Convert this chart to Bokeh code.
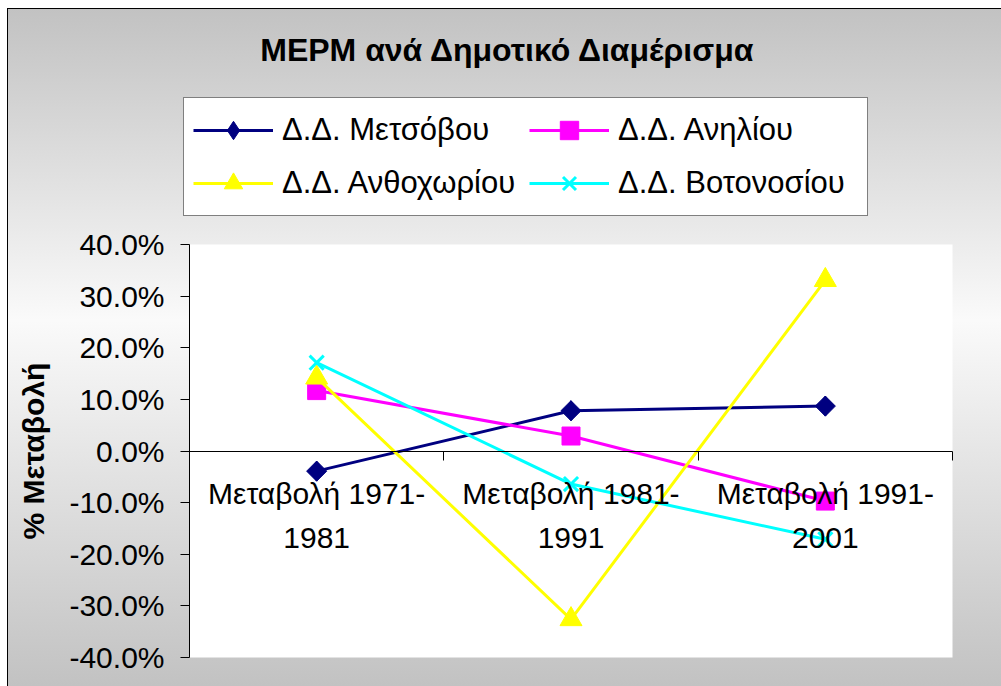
import math
from bokeh.plotting import figure
from bokeh.models import (Range1d, FixedTicker, NumeralTickFormatter, LinearAxis,
                          Legend, LegendItem, Label)
from bokeh.embed import file_html
from bokeh.resources import INLINE

# ---------------- data ----------------
chart_title = "ΜΕΡΜ ανά Δημοτικό Διαμέρισμα"
y_title = "% Μεταβολή"
categories = ["Μεταβολή 1971-\n1981", "Μεταβολή 1981-\n1991", "Μεταβολή 1991-\n2001"]
series_names = ["Δ.Δ. Μετσόβου", "Δ.Δ. Ανηλίου", "Δ.Δ. Ανθοχωρίου", "Δ.Δ. Βοτονοσίου"]
metsovou = [-0.039, 0.078, 0.087]
aniliou = [0.117, 0.029, -0.097]
anthochoriou = [0.142, -0.326, 0.331]
votonosiou = [0.171, -0.064, -0.171]
y_ticks = [-0.4, -0.3, -0.2, -0.1, 0.0, 0.1, 0.2, 0.3, 0.4]

values = [metsovou, aniliou, anthochoriou, votonosiou]
colors = ["#000080", "#ff00ff", "#ffff00", "#00ffff"]
markers = ["diamond", "square", "triangle", "x"]
msizes = [20, 18, 22, 20]
mlw = [1, 1, 1, 3]

FONT = "Liberation Sans"

# ---------------- layout (pixels inside the figure) ----------------
W, H = 993, 677
PL, PR, PT, PB = 181, 944, 235, 648   # white plot area edges

n = len(categories)
xs = [i + 0.5 for i in range(n)]
ymin, ymax = y_ticks[0], y_ticks[-1]
kx = n / (PR - PL)
ky = (ymax - ymin) / (PB - PT)
x_range = Range1d(-PL * kx, n + (W - PR) * kx)
y_range = Range1d(ymin - (H - PB) * ky, ymax + PT * ky)

p = figure(width=W, height=H, output_backend="svg", toolbar_location=None,
           x_range=x_range, y_range=y_range, x_axis_location=None,
           y_axis_location=None, min_border=0, title="")
p.title.visible = False
p.border_fill_color = None
p.background_fill_color = None
p.outline_line_color = None
p.xgrid.visible = False
p.ygrid.visible = False
p.styles = {
    "background": "linear-gradient(to bottom, #c2c2c2 0%, #fafafa 46%, #c2c2c2 100%)",
    "outline": "1px solid #000",
    "margin-left": "8px",
    "margin-top": "9px",
}

# white plot area
p.quad(left=[0], right=[n], bottom=[ymin], top=[ymax], fill_color="white",
       line_color=None)

# y axis
ya = LinearAxis(fixed_location=0, bounds=(ymin, ymax))
ya.ticker = FixedTicker(ticks=y_ticks)
ya.formatter = NumeralTickFormatter(format="0.0%")
ya.major_tick_in = 0
ya.major_tick_out = 9
ya.minor_tick_line_color = None
ya.axis_line_color = "black"
ya.major_tick_line_color = "black"
ya.major_label_text_font = FONT
ya.major_label_text_font_size = "30px"
ya.major_label_text_color = "black"
ya.major_label_standoff = 16
ya.axis_label = y_title
ya.axis_label_text_font = FONT
ya.axis_label_text_font_size = "30px"
ya.axis_label_text_font_style = "bold"
ya.axis_label_text_color = "black"
ya.axis_label_standoff = 16
p.add_layout(ya, "left")

# x axis: line at zero, ticks between categories
xa = LinearAxis(fixed_location=0, bounds=(0, n))
xa.ticker = FixedTicker(ticks=list(range(n + 1)))
xa.major_label_text_font_size = "0px"
xa.major_label_text_color = None
xa.major_tick_in = 0
xa.major_tick_out = 9
xa.minor_tick_line_color = None
xa.axis_line_color = "black"
xa.major_tick_line_color = "black"
p.add_layout(xa, "below")

# category labels
xl = LinearAxis(fixed_location=0, ticker=FixedTicker(ticks=xs),
                major_label_overrides={x: c for x, c in zip(xs, categories)})
xl.axis_line_color = None
xl.major_tick_line_color = None
xl.minor_tick_line_color = None
xl.major_label_text_font = FONT
xl.major_label_text_font_size = "30px"
xl.major_label_text_color = "black"
xl.major_label_text_line_height = 1.33
xl.major_label_standoff = 20
p.add_layout(xl, "below")

items = []
for name, vals, col, mk, ms, lw in zip(series_names, values, colors, markers,
                                       msizes, mlw):
    lr = p.line(xs, vals, line_color=col, line_width=3)
    sr = p.scatter(xs, vals, marker=mk, size=ms, fill_color=col,
                   line_color=col, line_width=lw)
    if mk == "diamond":
        # draw the chart diamond as a wider, square-shaped rhombus on top
        p.scatter(xs, vals, marker="square", size=14.2, angle=math.pi / 4,
                  fill_color=col, line_color=col, line_width=lw)
    items.append(LegendItem(label=name, renderers=[lr, sr]))

legend = Legend(items=items, location=(175, 470), orientation="horizontal", ncols=2,
                label_text_font=FONT, label_text_font_size="31px",
                label_text_color="black", glyph_width=80, glyph_height=46,
                label_height=40, label_width=240, label_standoff=9, spacing=7,
                padding=9, margin=0, border_line_color="black", border_line_width=1,
                background_fill_color="white", background_fill_alpha=1.0)
p.add_layout(legend, "center")

title_lbl = Label(x=n / 2, y=ymax, x_offset=-63, y_offset=195, text=chart_title,
                  text_align="center", text_baseline="alphabetic", text_font=FONT,
                  text_font_size="32px", text_font_style="bold", text_color="black")
p.add_layout(title_lbl)

open("out.html", "w").write(file_html(p, INLINE))
